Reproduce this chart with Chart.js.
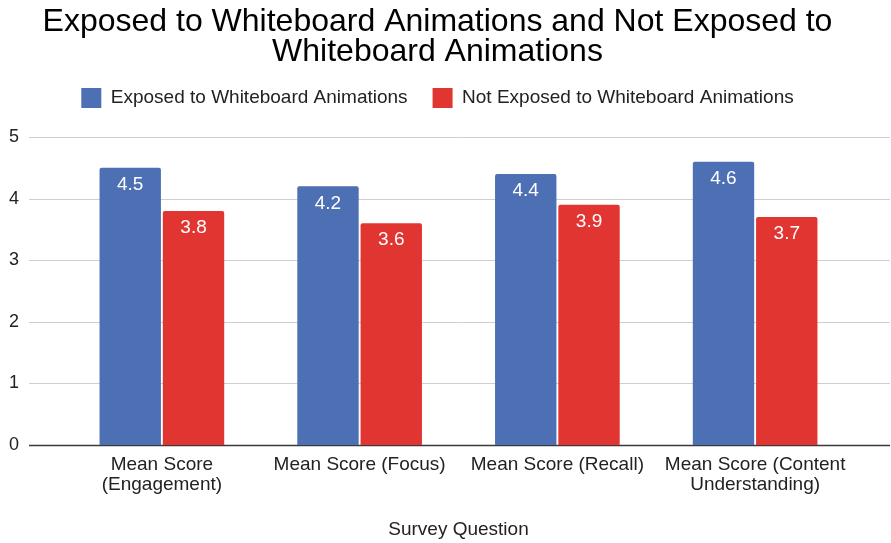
<!DOCTYPE html>
<html>
<head>
<meta charset="utf-8">
<script src="https://cdn.jsdelivr.net/npm/chart.js@4/dist/chart.umd.min.js"></script>
<style>
html,body{margin:0;padding:0;background:#fff;}
#wrap{width:891px;height:543px;position:relative;}
</style>
</head>
<body>
<div id="wrap"><canvas id="c" width="891" height="543"></canvas></div>
<script>
const categories = [["Mean Score", "(Engagement)"], "Mean Score (Focus)", "Mean Score (Recall)", ["Mean Score (Content", "Understanding)"]];
const seriesNames = ["Exposed to Whiteboard Animations", "Not Exposed to Whiteboard Animations"];
const exposedValues = [4.5, 4.2, 4.4, 4.6];
const notExposedValues = [3.8, 3.6, 3.9, 3.7];
const yTicks = [0, 1, 2, 3, 4, 5];
const titleLines = ["Exposed to Whiteboard Animations and Not Exposed to", "Whiteboard Animations"];
const xAxisTitle = "Survey Question";

const FONT = "'Liberation Sans', Arial, sans-serif";

const gridPlugin = {
  id: 'wideGrid',
  beforeDatasetsDraw(chart) {
    const ctx = chart.ctx, y = chart.scales.y;
    ctx.save();
    yTicks.forEach(v => {
      const py = Math.round(y.getPixelForValue(v)) + 0.5;
      ctx.beginPath();
      ctx.strokeStyle = v === 0 ? '#3a3a3a' : '#cfcfcf';
      ctx.lineWidth = v === 0 ? 1.6 : 1;
      ctx.moveTo(29, py);
      ctx.lineTo(890, py);
      ctx.stroke();
    });
    ctx.restore();
  }
};

const labelPlugin = {
  id: 'barLabels',
  afterDatasetsDraw(chart) {
    const ctx = chart.ctx;
    ctx.save();
    ctx.font = "19px " + FONT;
    ctx.fillStyle = '#ffffff';
    ctx.textAlign = 'center';
    ctx.textBaseline = 'middle';
    chart.data.datasets.forEach((ds, i) => {
      chart.getDatasetMeta(i).data.forEach((bar, j) => {
        ctx.fillText(ds.data[j].toFixed(1), bar.x, bar.y + 17);
      });
    });
    ctx.restore();
  }
};

const layoutTweakPlugin = {
  id: 'layoutTweak',
  beforeInit(chart) {
    const lg = chart.legend;
    const origFit = lg.fit;
    lg.fit = function () {
      origFit.call(this);
      this.height = 74;
    };
  },
  afterLayout(chart) {
    // let the y tick labels (placed left of the axis box) stay visible
    chart.scales.y.left = 0;
  }
};

new Chart(document.getElementById('c'), {
  type: 'bar',
  data: {
    labels: categories,
    datasets: [
      { label: seriesNames[0], data: exposedValues, backgroundColor: '#4d6fb4', borderRadius: 2, borderSkipped: 'bottom' },
      { label: seriesNames[1], data: notExposedValues, backgroundColor: '#e13532', borderRadius: 2, borderSkipped: 'bottom' }
    ]
  },
  options: {
    responsive: false,
    animation: false,
    devicePixelRatio: 1,
    layout: { padding: { left: 21, right: 37, top: 0, bottom: 2 } },
    datasets: { bar: { categoryPercentage: 0.64, barPercentage: 0.97 } },
    plugins: {
      title: {
        display: true,
        text: titleLines,
        color: '#000',
        font: { family: FONT, size: 32, weight: 'normal', lineHeight: 0.9375 },
        padding: { top: 7, bottom: -4 }
      },
      legend: {
        display: true,
        labels: {
          color: '#222',
          font: { family: FONT, size: 19 },
          boxWidth: 20, boxHeight: 20,
          padding: 25
        }
      },
      tooltip: { enabled: false }
    },
    scales: {
      y: {
        min: 0, max: 5,
        ticks: { stepSize: 1, color: '#222', font: { family: FONT, size: 18 }, padding: 44 },
        grid: { display: false, drawTicks: false },
        border: { display: false },
        afterFit(scale) { scale.width = 42; }
      },
      x: {
        ticks: { color: '#222', font: { family: FONT, size: 19, lineHeight: 1.05 }, maxRotation: 0, autoSkip: false, padding: 10 },
        grid: { display: false, drawTicks: false },
        border: { display: false },
        title: { display: true, text: xAxisTitle, color: '#222', font: { family: FONT, size: 19, lineHeight: 1.2 }, padding: { top: 0, bottom: 0 } },
        afterFit(scale) { scale.height = 96; }
      }
    }
  },
  plugins: [gridPlugin, labelPlugin, layoutTweakPlugin]
});
</script>
</body>
</html>
